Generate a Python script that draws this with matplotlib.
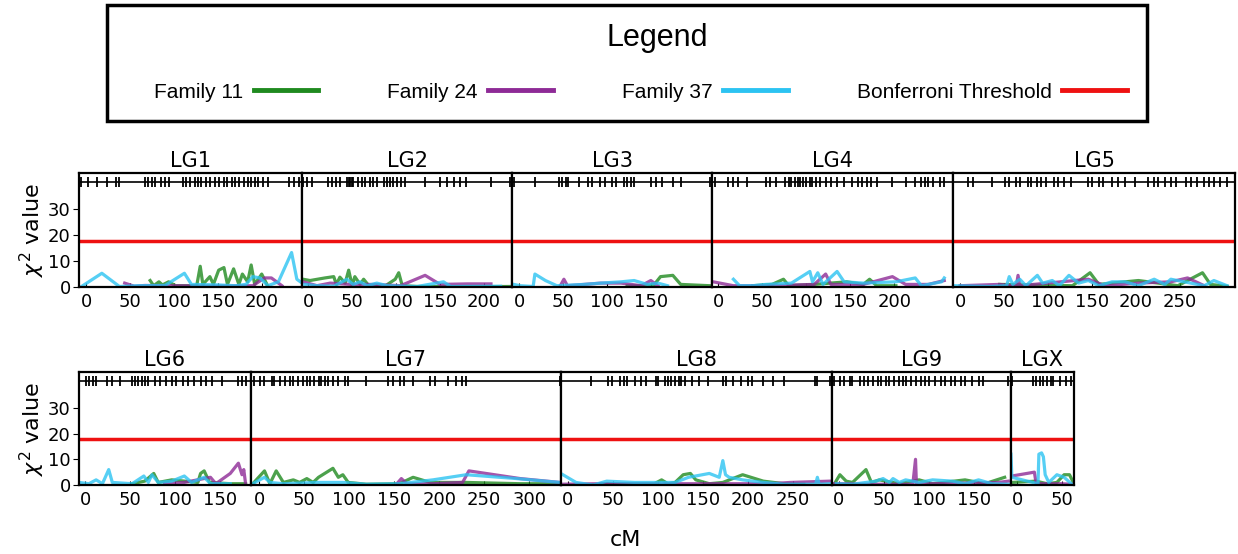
import matplotlib
matplotlib.use('Agg')
import matplotlib.pyplot as plt
from matplotlib.lines import Line2D
from matplotlib.patches import Rectangle

# linkage groups, axis ranges (cM) and last labelled tick
lg_names = ['LG1', 'LG2', 'LG3', 'LG4', 'LG5', 'LG6', 'LG7', 'LG8', 'LG9', 'LGX']
lg_start = [-8, -7, -8, -7, -8, -7, -9, -8, -8, -7]
lg_end = [246, 232, 220, 267, 313, 184, 335, 293, 191, 63]
lg_last_tick = [200, 200, 150, 200, 250, 150, 300, 250, 150, 50]

threshold = 17.8
rug_level = 40.5

# marker positions (cM) shown as rug at the top of each panel
markers_lg1 = [-6, 2, 12, 24, 34, 38, 67, 71, 75, 79, 85, 90, 94, 110, 114, 118, 124, 127,
               131, 137, 141, 147, 151, 157, 161, 166, 170, 174, 180, 184, 188, 192, 196,
               201, 207, 231, 237, 242]
markers_lg2 = [-6, -2, 4, 23, 27, 32, 36, 44, 46, 48, 50, 51, 57, 61, 65, 70, 74, 78, 86,
               90, 93, 97, 101, 105, 110, 133, 150, 158, 166, 173, 179, 208, 230]
markers_lg3 = [-6, 18, 45, 49, 53, 56, 68, 79, 83, 92, 98, 106, 110, 119, 123, 127, 131,
               150, 156, 163, 175, 184, 217]
markers_lg4 = [-4, 11, 17, 22, 33, 54, 59, 65, 76, 80, 83, 87, 91, 93, 96, 100, 104, 107,
               111, 115, 122, 128, 135, 143, 152, 159, 163, 169, 174, 180, 198, 213, 224,
               230, 235, 239, 244, 252, 257]
markers_lg5 = [9, 15, 36, 51, 56, 64, 68, 77, 81, 88, 92, 98, 107, 111, 118, 126, 146,
               150, 158, 163, 173, 180, 188, 199, 214, 221, 225, 233, 240, 246, 257, 263,
               270, 278, 283, 289, 296, 304]
markers_lg6 = [1, 4, 8, 12, 24, 30, 39, 52, 55, 59, 63, 66, 70, 77, 83, 90, 96, 101, 108,
               114, 121, 128, 134, 141, 152, 170, 174, 178]
markers_lg7 = [-6, 1, 6, 14, 17, 23, 29, 34, 38, 43, 49, 53, 57, 61, 66, 69, 73, 77, 82,
               88, 95, 99, 119, 143, 149, 156, 161, 171, 190, 195, 210, 219, 225, 230, 334]
markers_lg8 = [-8, 26, 45, 49, 58, 62, 66, 74, 81, 87, 98, 100, 108, 111, 115, 119, 123,
               126, 130, 138, 145, 155, 172, 175, 183, 192, 200, 204, 217, 228, 240, 274,
               277, 291]
markers_lg9 = [-5, 1, 6, 12, 15, 23, 28, 32, 38, 43, 47, 52, 56, 61, 67, 71, 74, 80, 85,
               91, 96, 100, 107, 113, 118, 124, 129, 135, 140, 148, 155, 160, 188]
markers_lgx = [-6, 17, 21, 25, 29, 33, 37, 40, 48, 54, 60, 63]

# chi-square values per family, (cM, value)
fam11_lg1 = [(73, 2.5), (77, 0.5), (83, 2), (87, 0.8), (94, 2), (102, 0.5), (126, 0.5),
             (130, 8), (133, 1), (141, 4), (145, 1), (151, 6.5), (157, 7.5), (161, 1),
             (168, 7), (174, 1), (178, 5), (184, 2), (188, 8.5), (192, 1), (200, 5),
             (207, 0.3)]
fam24_lg1 = [(44, 1.5), (55, 0.3), (67, 0.6), (94, 0.5), (150, 0.4), (190, 0.5),
             (203, 3.5), (211, 3.5), (223, 0.5)]
fam37_lg1 = [(-6, 0), (18, 5.3), (38, 0.2), (60, 0.5), (90, 0.6), (112, 5.3), (120, 1),
             (150, 0.8), (170, 0.5), (182, 1), (190, 4), (198, 3.5), (207, 0.5), (219, 2),
             (234, 13.3), (240, 3), (244, 2)]

fam11_lg2 = [(-6, 3), (2, 2.5), (19, 3.5), (29, 4), (32, 1), (36, 3.8), (42, 1.5),
             (46, 6.5), (50, 0.5), (53, 4), (59, 1), (63, 3), (69, 0.5), (76, 1), (88, 0.5),
             (99, 3), (103, 5.5), (107, 0.5), (124, 0.2), (180, 0.1), (230, 0.2)]
fam24_lg2 = [(-6, 2), (10, 0.5), (25, 1.5), (48, 1), (74, 1), (105, 0.5), (133, 4.5),
             (150, 1), (181, 1.2), (208, 1.2)]
fam37_lg2 = [(-4, 1), (10, 0.5), (29, 0.3), (44, 3), (51, 1), (59, 2), (67, 0.5),
             (78, 1.5), (90, 0.5), (124, 0.2), (154, 2), (162, 0.2), (219, 0.3)]

fam11_lg3 = [(123, 0.5), (142, 0.5), (154, 1), (161, 4), (175, 4.5), (184, 1), (217, 0.5)]
fam24_lg3 = [(47, 0.5), (51, 3), (55, 0.5), (93, 1.5), (116, 1.5), (139, 0.5), (150, 2.5),
             (158, 0.5)]
fam37_lg3 = [(-6, 1), (1, 0.5), (16, 0.2), (18, 5), (30, 2.5), (43, 0.5), (74, 1),
             (93, 1.5), (116, 2), (131, 2.5), (146, 1), (158, 1.5), (169, 0.5)]

fam11_lg4 = [(39, 0.5), (61, 1), (74, 3), (80, 0.5), (109, 1), (146, 2), (165, 1),
             (172, 3), (180, 0.5), (202, 0.5)]
fam24_lg4 = [(-6, 2), (17, 0.5), (54, 0.5), (109, 1), (122, 5), (128, 1), (165, 1),
             (198, 4), (213, 1), (239, 1), (257, 2.5)]
fam37_lg4 = [(17, 3), (24, 0.5), (39, 0.5), (54, 1), (83, 1.5), (104, 6), (107, 2),
             (113, 5.5), (119, 1), (135, 6), (143, 2), (165, 1.5), (202, 2), (224, 3.5),
             (231, 0.5), (254, 2), (257, 3.5)]

fam11_lg5 = [(45, 1), (128, 0.5), (148, 5.5), (158, 1), (203, 2.5), (248, 0.5),
             (276, 5.5), (285, 1), (304, 0.3)]
fam24_lg5 = [(0, 0.5), (45, 1), (64, 0.3), (66, 4.5), (68, 0.5), (146, 3), (165, 0.5),
             (203, 1.5), (240, 2), (259, 3.5), (278, 0.5)]
fam37_lg5 = [(-7, 0.5), (34, 0.2), (53, 0.5), (56, 4), (60, 1), (68, 3), (75, 0.5),
             (88, 4.5), (94, 1.5), (105, 2.5), (113, 0.5), (124, 4.5), (135, 1.5),
             (146, 2.5), (158, 0.5), (173, 2), (188, 2), (203, 0.5), (221, 3), (233, 1),
             (240, 3), (255, 2), (278, 0.5), (289, 2.5), (304, 0.5)]

fam11_lg6 = [(52, 0.5), (66, 1.5), (76, 4.5), (81, 1), (96, 2), (125, 1), (128, 4.5),
             (132, 5.5), (138, 1), (161, 0.5), (178, 0.5)]
fam24_lg6 = [(88, 0.5), (110, 1), (139, 3), (145, 0.5), (161, 4.5), (170, 8.5), (174, 4),
             (176, 6), (178, 0.5)]
fam37_lg6 = [(-7, 1), (4, 0.5), (12, 2), (19, 0.5), (26, 6), (30, 1), (52, 0.5),
             (65, 3.5), (70, 1), (74, 4), (81, 1), (96, 1.5), (110, 3.5), (118, 1),
             (132, 3), (139, 0.5), (161, 0.5)]

fam11_lg7 = [(-7, 0.5), (6, 5.5), (12, 0.5), (19, 5.5), (27, 1), (38, 2), (45, 1),
             (53, 2.5), (60, 1), (66, 3), (82, 6.5), (88, 3), (93, 4), (99, 1), (119, 0.3),
             (156, 0.5), (171, 3), (190, 1), (230, 1), (290, 0.5), (334, 0.5)]
fam24_lg7 = [(153, 0.5), (158, 2.5), (164, 0.5), (193, 0.5), (226, 1), (233, 5.5),
             (290, 2.5), (334, 1)]
fam37_lg7 = [(-7, 0.5), (6, 3), (12, 1), (27, 0.5), (64, 1), (93, 1), (119, 0.3),
             (156, 0.5), (193, 2), (230, 4), (286, 2.5), (334, 1)]

fam11_lg8 = [(36, 0.5), (96, 0.5), (104, 2), (111, 0.5), (119, 1), (128, 4), (136, 4.5),
             (142, 2), (157, 0.5), (172, 1), (194, 4), (217, 1.5), (240, 0.5), (262, 0.3)]
fam24_lg8 = [(-8, 0.3), (36, 0.5), (225, 0.5), (247, 1), (291, 1.5)]
fam37_lg8 = [(-8, 4.5), (9, 1), (28, 0), (43, 1.5), (74, 1), (96, 1), (119, 1), (134, 3),
             (157, 4.5), (168, 3), (172, 9.5), (175, 4), (179, 3), (194, 2), (217, 1),
             (240, 0.3), (275, 0.3), (277, 3), (279, 0.3), (291, 0.5)]

fam11_lg9 = [(-5, 0.5), (1, 4), (8, 1.5), (15, 1), (30, 6), (36, 1), (45, 2), (52, 1.5),
             (67, 0.5), (89, 2), (104, 0.5), (140, 2), (162, 0.5), (184, 3)]
fam24_lg9 = [(-5, 0.5), (8, 0.5), (30, 0.3), (82, 0.3), (85, 10), (86, 0.5), (104, 0.5),
             (177, 1), (188, 1.5)]
fam37_lg9 = [(-3, 0.5), (15, 0.3), (41, 1.5), (49, 2.5), (56, 1), (60, 2.5), (67, 1),
             (74, 2), (89, 1), (104, 2), (126, 1.5), (140, 0.5), (155, 2), (170, 0.5),
             (188, 0.3)]

fam11_lgx = [(-6, 1), (21, 1.5), (33, 0.5), (44, 1), (52, 4), (58, 4), (63, 0.5)]
fam24_lgx = [(-6, 3.5), (19, 5), (21, 0.5), (48, 0.5), (63, 0.3)]
fam37_lgx = [(-7, 12), (-6, 3), (23, 0.5), (24, 12), (27, 12.5), (29, 11), (31, 4),
             (35, 1), (44, 4), (52, 3), (60, 0.5)]

markers = [markers_lg1, markers_lg2, markers_lg3, markers_lg4, markers_lg5,
           markers_lg6, markers_lg7, markers_lg8, markers_lg9, markers_lgx]
fam11 = [fam11_lg1, fam11_lg2, fam11_lg3, fam11_lg4, fam11_lg5,
         fam11_lg6, fam11_lg7, fam11_lg8, fam11_lg9, fam11_lgx]
fam24 = [fam24_lg1, fam24_lg2, fam24_lg3, fam24_lg4, fam24_lg5,
         fam24_lg6, fam24_lg7, fam24_lg8, fam24_lg9, fam24_lgx]
fam37 = [fam37_lg1, fam37_lg2, fam37_lg3, fam37_lg4, fam37_lg5,
         fam37_lg6, fam37_lg7, fam37_lg8, fam37_lg9, fam37_lgx]

family_names = ['Family 11', 'Family 24', 'Family 37']
family_colors = ['#1f8a1f', '#8e2a96', '#2cc3f2']
red = '#ee1111'

W, H = 1238, 554
fig = plt.figure(figsize=(W / 100, H / 100), dpi=100)


def px_x(x):
    return x / W


def px_y(y):
    return 1 - y / H


rows = [(range(0, 5), 79, 1235, 173, 287), (range(5, 10), 79, 1074, 372, 485)]

for idx, left, right, top, bottom in rows:
    spans = [lg_end[i] - lg_start[i] for i in idx]
    gs = fig.add_gridspec(1, len(spans), width_ratios=spans, wspace=0,
                          left=px_x(left), right=px_x(right),
                          top=px_y(top), bottom=px_y(bottom))
    for k, i in enumerate(idx):
        ax = fig.add_subplot(gs[0, k])
        for data, col in zip([fam11[i], fam24[i], fam37[i]], family_colors):
            xs = [p[0] for p in data]
            ys = [p[1] for p in data]
            ax.plot(xs, ys, color=col, lw=2.3, alpha=0.8)
        ax.axhline(threshold, color=red, lw=2.5)
        ax.axhline(rug_level, color='black', lw=1.2)
        ax.plot(markers[i], [rug_level] * len(markers[i]), ls='none', marker='|',
                color='black', ms=7, mew=1.3)
        ax.set_xlim(lg_start[i], lg_end[i])
        ax.set_ylim(0, 44)
        ax.set_xticks(list(range(0, lg_last_tick[i] + 1, 50)))
        ax.tick_params(axis='x', direction='in', length=3, labelsize=13, pad=4)
        ax.set_title(lg_names[i], fontsize=15, pad=4)
        for sp in ax.spines.values():
            sp.set_linewidth(1.6)
        if k == 0:
            ax.set_yticks([0, 10, 20, 30])
            ax.tick_params(axis='y', direction='out', length=4, labelsize=13, pad=2)
            ax.set_ylabel(r'$\chi^2$ value', fontsize=16, labelpad=1)
        else:
            ax.set_yticks([])

fig.text(px_x(625), px_y(540), 'cM', ha='center', va='center', fontsize=16)

# legend box
fig.patches.append(Rectangle((px_x(107), px_y(121)), px_x(1147) - px_x(107),
                             px_y(5) - px_y(121), transform=fig.transFigure,
                             fill=False, edgecolor='black', lw=2.5))
fig.text(px_x(657), px_y(38), 'Legend', ha='center', va='center', fontsize=22,
         family='Liberation Sans')
handles = [Line2D([], [], color=c, lw=3.5) for c in family_colors]
handles.append(Line2D([], [], color=red, lw=3.5))
labels = family_names + ['Bonferroni Threshold']
fig.legend(handles, labels, loc='center', ncol=4, mode='expand', markerfirst=False,
           frameon=False, bbox_to_anchor=(px_x(154), px_y(104), px_x(1127) - px_x(154),
                                          px_y(80) - px_y(104)),
           borderpad=0, borderaxespad=0, handlelength=3.1, handletextpad=0.5,
           prop={'family': 'Liberation Sans', 'size': 15})

fig.savefig('out.png', dpi=100)
